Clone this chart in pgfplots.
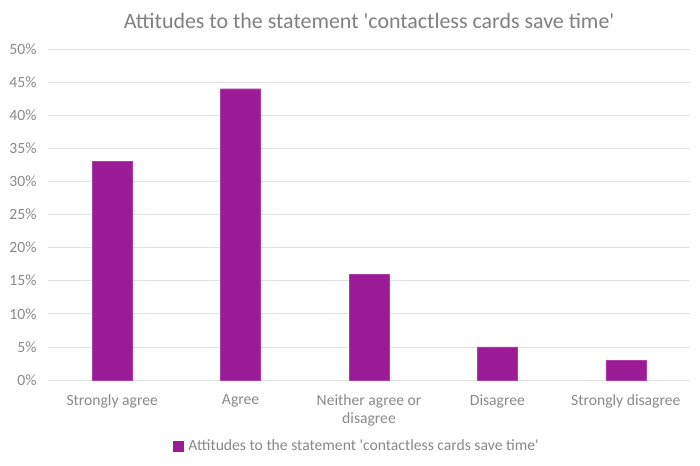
\documentclass[border=0pt]{standalone}
\usepackage{pgfplots}
\pgfplotsset{compat=1.18}
\usepackage{fontspec}
\setmainfont{Carlito}
\definecolor{barc}{RGB}{155,27,150}
\definecolor{txtc}{RGB}{137,137,137}
\definecolor{titc}{RGB}{128,128,128}
\definecolor{gridc}{RGB}{225,225,225}
\begin{document}
\begin{tikzpicture}[x=1bp,y=1bp]
\begin{axis}[
  at={(0,0)}, anchor=south west,
  scale only axis, width=642bp, height=331bp,
  xmin=-0.5, xmax=4.5, ymin=0, ymax=50,
  xtick=data,
  xticklabels={Strongly agree,Agree,{Neither agree or\\disagree},Disagree,Strongly disagree},
  xticklabel style={align=center, text=txtc, font=\fontsize{15.7}{18.5}\selectfont, yshift=-11bp},
  ytick={0,5,...,50},
  yticklabel={\pgfmathprintnumber{\tick}\%},
  yticklabel style={text=txtc, font=\fontsize{15.7}{18}\selectfont, xshift=-8bp},
  /pgf/number format/assume math mode=true,
  ymajorgrids, grid style={gridc, line width=0.75bp},
  major tick length=0pt,
  axis x line*=bottom, axis y line*=left,
  y axis line style={draw=none},
  x axis line style={gridc, line width=0.75bp},
  ybar, bar width=40bp,
  title={Attitudes to the statement \textquotesingle contactless cards save time\textquotesingle},
  title style={text=titc, font=\fontsize{22}{26}\selectfont, yshift=11bp},
  legend style={at={(0.481,-0.2)}, anchor=center, draw=none, font=\fontsize{15.7}{18}\selectfont, text=txtc},
  legend image code/.code={\fill[barc] (0bp,-5bp) rectangle (10bp,5bp);},
  clip=false,
]
\addplot[fill=barc, draw=barc!85!white] coordinates {(0,33) (1,44) (2,16) (3,5) (4,3)};
\addlegendentry{\hspace{3bp}Attitudes to the statement \textquotesingle contactless cards save time\textquotesingle}
\end{axis}
\pgfresetboundingbox
\path (-48,-86) rectangle (652,380);
\end{tikzpicture}
\end{document}
